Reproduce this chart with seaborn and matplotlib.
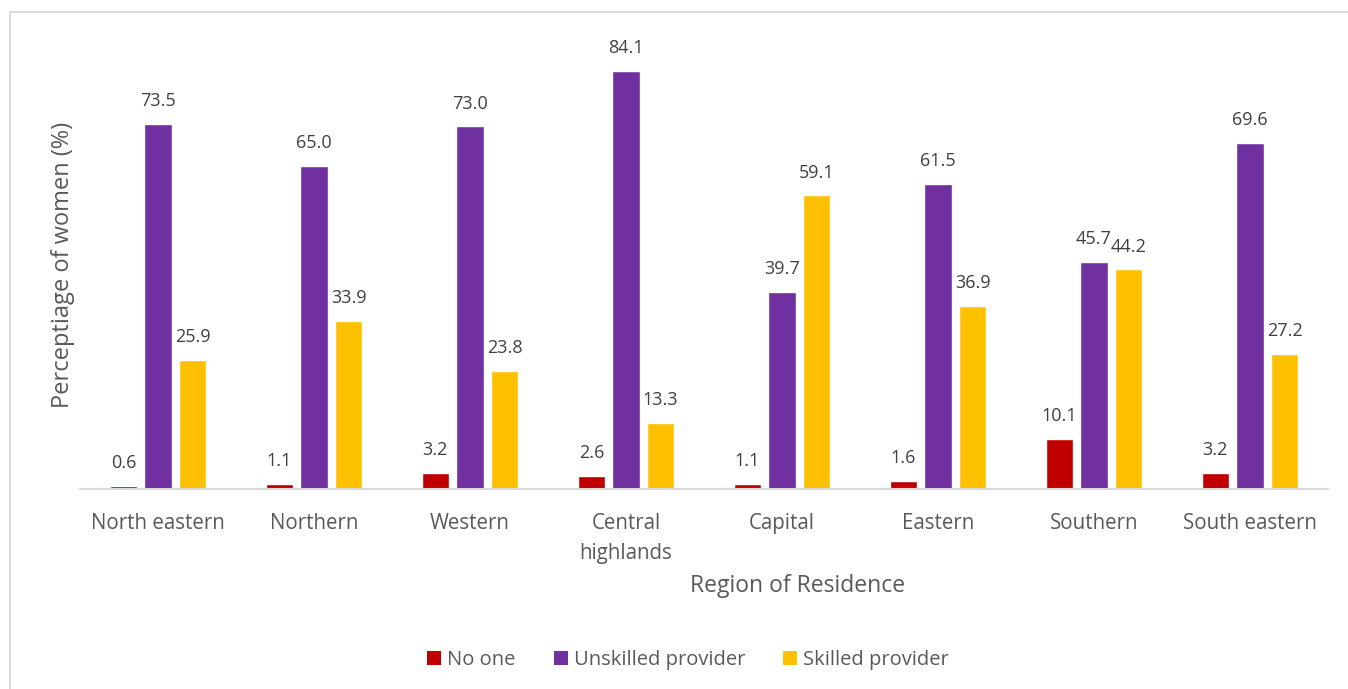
import numpy as np
import pandas as pd
import matplotlib
matplotlib.use("Agg")
import matplotlib.pyplot as plt
from matplotlib.patches import Patch
from matplotlib.lines import Line2D
import seaborn as sns

regions = ["North eastern", "Northern", "Western", "Central\nhighlands",
           "Capital", "Eastern", "Southern", "South eastern"]
no_one = [0.6, 1.1, 3.2, 2.6, 1.1, 1.6, 10.1, 3.2]
unskilled = [73.5, 65.0, 73.0, 84.1, 39.7, 61.5, 45.7, 69.6]
skilled = [25.9, 33.9, 23.8, 13.3, 59.1, 36.9, 44.2, 27.2]
series_names = ["No one", "Unskilled provider", "Skilled provider"]
colors = ["#C00000", "#7030A0", "#FFC000"]

df = pd.DataFrame({
    "Region": regions * 3,
    "Provider": np.repeat(series_names, len(regions)),
    "Value": no_one + unskilled + skilled,
})

sns.set_theme(style="white")
plt.rcParams["font.family"] = ["Open Sans", "DejaVu Sans"]
TXT = "#595959"

fig = plt.figure(figsize=(13.48, 6.89), dpi=100)
ax = fig.add_axes([80 / 1348, 200 / 689, 1248 / 1348, 447 / 689])

sns.barplot(data=df, x="Region", y="Value", hue="Provider",
            order=regions, hue_order=series_names, palette=colors,
            width=0.667, gap=0.22, saturation=1, ax=ax, legend=False,
            errorbar=None)

ax.set_ylim(0, 90)
ax.set_xlim(-0.5, len(regions) - 0.5)
ax.set_yticks([])
for s in ["top", "right", "left"]:
    ax.spines[s].set_visible(False)
ax.spines["bottom"].set_color("#D9D9D9")
ax.spines["bottom"].set_linewidth(1.5)
ax.tick_params(axis="x", length=0, pad=17, labelsize=14.8, labelcolor=TXT)
for lbl in ax.get_xticklabels():
    lbl.set_linespacing(1.6)

for cont in ax.containers:
    ax.bar_label(cont, fmt="%.1f", padding=10, fontsize=13, color="#404040")

ax.set_xlabel("Region of Residence", fontsize=16.5, color=TXT)
ax.xaxis.set_label_coords((798 - 80) / 1248, -(574 - 489) / 447)
ax.set_ylabel("Perceptiage of women (%)", fontsize=17, color=TXT)
ax.yaxis.set_label_coords(-(80 - 75) / 1248, (489 - 265) / 447)

handles = [Patch(facecolor=c, edgecolor="none") for c in colors]
fig.legend(handles, series_names, loc="center", ncol=3,
           bbox_to_anchor=(688 / 1348, 29 / 689), frameon=False,
           fontsize=14.5, labelcolor=TXT, handlelength=0.7, handleheight=0.7,
           handletextpad=0.3, columnspacing=1.9)

# outer chart frame
frame_c = "#D9D9D9"
fig.add_artist(Line2D([10 / 1348, 1.0], [677 / 689, 677 / 689],
                      transform=fig.transFigure, color=frame_c, lw=1.5))
fig.add_artist(Line2D([10 / 1348, 10 / 1348], [0, 677 / 689],
                      transform=fig.transFigure, color=frame_c, lw=1.5))

fig.savefig("out.png", dpi=100, facecolor="white")
